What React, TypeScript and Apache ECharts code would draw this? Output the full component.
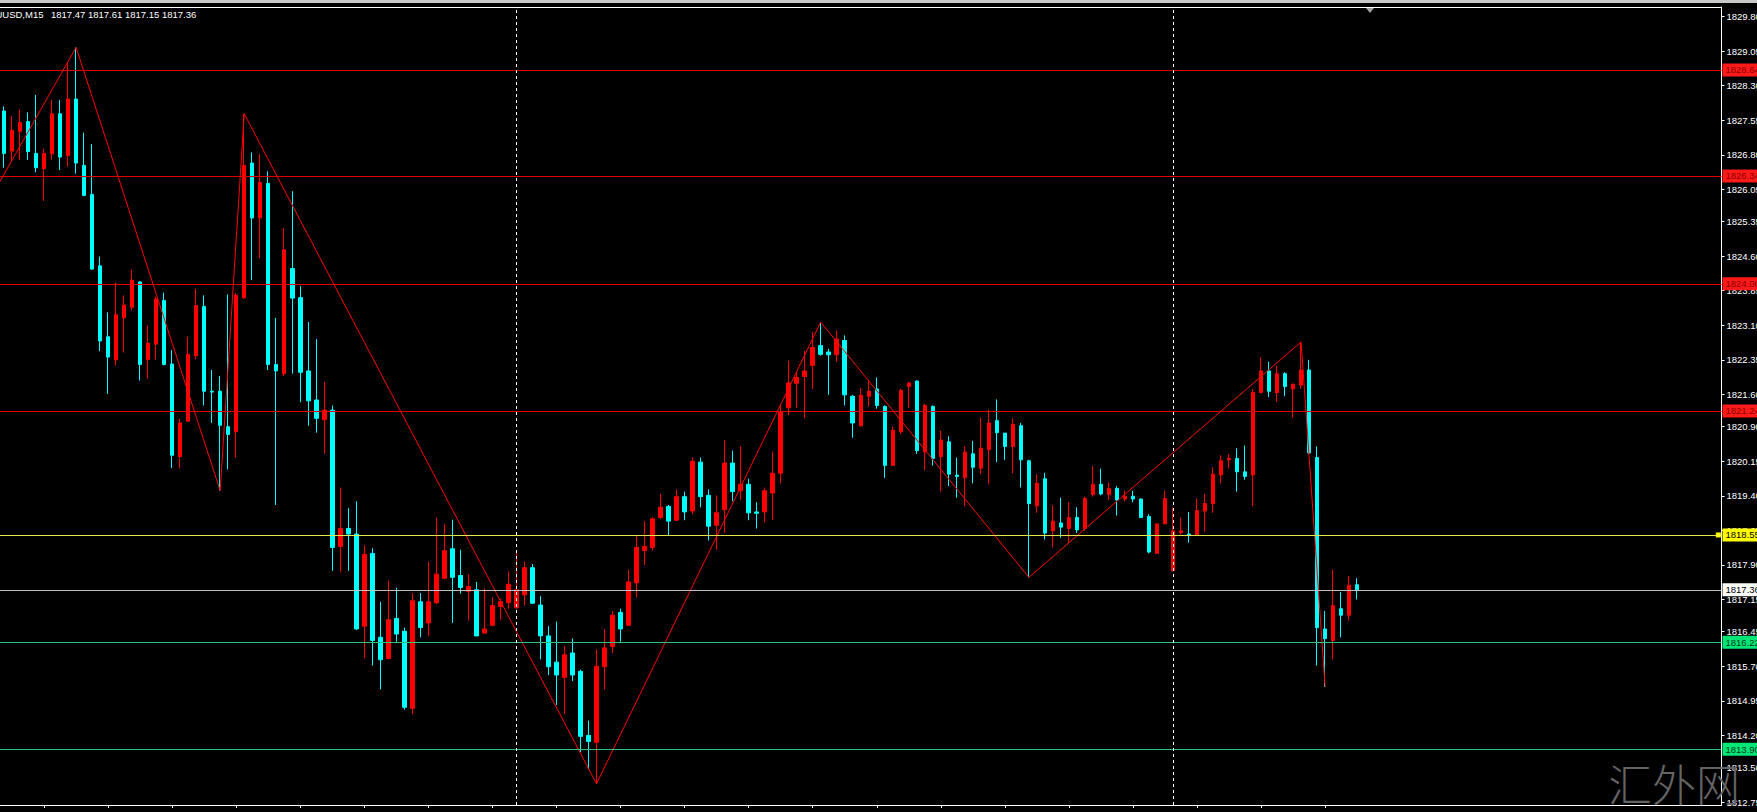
import React, { useEffect, useRef } from "react";
import * as echarts from "echarts";

const symbolName = "XAUUSD,M15";
const lastBarText = "1817.47 1817.61 1817.15 1817.36";

const opens = [
  1827.75, 1826.88, 1827.31, 1827.52, 1826.83, 1826.50, 1826.82, 1827.69, 1826.78, 1828.01,
  1826.57, 1825.94, 1824.39, 1822.85, 1822.35, 1823.26, 1823.49, 1824.04, 1822.36, 1822.69,
  1823.64, 1822.26, 1820.25, 1821.02, 1822.44, 1823.51, 1821.67, 1821.67, 1820.90, 1820.79,
  1823.70, 1826.62, 1825.43, 1826.18, 1822.25, 1822.05, 1824.33, 1823.70, 1822.11, 1821.48,
  1821.05, 1821.26, 1818.30, 1818.69, 1818.57, 1816.57, 1818.15, 1816.33, 1815.87, 1816.74,
  1816.46, 1814.79, 1817.10, 1816.64, 1817.08, 1817.61, 1818.25, 1817.67, 1817.33, 1817.36,
  1816.42, 1816.59, 1817.00, 1817.08, 1816.97, 1817.25, 1817.84, 1817.03, 1816.36, 1815.79,
  1815.46, 1815.99, 1815.59, 1814.20, 1814.05, 1815.69, 1816.13, 1816.87, 1816.59, 1817.51,
  1818.21, 1818.28, 1818.93, 1819.17, 1818.87, 1819.38, 1819.07, 1820.13, 1819.41, 1818.76,
  1819.10, 1820.11, 1819.51, 1819.65, 1819.05, 1819.05, 1819.46, 1819.89, 1821.31, 1821.84,
  1821.99, 1822.23, 1822.66, 1822.52, 1822.46, 1822.77, 1821.56, 1820.92, 1821.56, 1821.72,
  1821.34, 1820.06, 1820.79, 1821.77, 1821.89, 1820.35, 1821.34, 1820.25, 1820.57, 1819.85,
  1819.79, 1820.31, 1820.00, 1820.40, 1821.03, 1820.76, 1820.47, 1820.92, 1820.16, 1819.18,
  1819.77, 1818.64, 1818.81, 1818.69, 1818.93, 1818.69, 1819.43, 1819.65, 1819.43, 1819.56,
  1819.33, 1819.39, 1819.33, 1818.95, 1818.15, 1818.79, 1817.77, 1818.60, 1818.57, 1818.54,
  1819.07, 1819.23, 1819.85, 1820.18, 1820.21, 1819.92, 1819.85, 1821.64, 1822.11, 1821.64,
  1822.05, 1821.72, 1821.80, 1822.13, 1820.23, 1816.51, 1816.26, 1816.95, 1816.81, 1817.47,
];
const highs = [
  1827.85, 1827.64, 1827.79, 1827.72, 1828.10, 1826.93, 1827.99, 1827.99, 1828.80, 1829.13,
  1827.28, 1827.03, 1824.59, 1823.38, 1824.03, 1823.75, 1824.31, 1824.06, 1823.10, 1823.72,
  1823.81, 1822.56, 1821.07, 1822.85, 1823.89, 1823.75, 1822.13, 1822.00, 1823.77, 1823.80,
  1827.69, 1826.85, 1826.82, 1826.44, 1823.26, 1825.21, 1826.01, 1823.95, 1823.17, 1822.80,
  1821.87, 1821.36, 1819.58, 1819.13, 1819.28, 1818.33, 1818.26, 1817.10, 1817.56, 1817.41,
  1816.54, 1817.29, 1817.29, 1817.97, 1818.93, 1818.79, 1818.88, 1818.23, 1817.69, 1817.53,
  1817.39, 1817.20, 1817.17, 1817.76, 1818.18, 1817.97, 1817.92, 1817.22, 1816.57, 1816.67,
  1816.13, 1816.30, 1815.63, 1814.52, 1816.07, 1816.51, 1816.90, 1816.95, 1817.80, 1818.52,
  1818.85, 1818.93, 1819.44, 1819.20, 1819.54, 1819.49, 1820.23, 1820.23, 1819.54, 1819.41,
  1820.61, 1820.38, 1820.47, 1819.77, 1819.26, 1819.58, 1820.36, 1821.36, 1822.33, 1822.08,
  1822.54, 1822.95, 1823.17, 1822.59, 1822.98, 1822.88, 1821.59, 1821.74, 1821.92, 1821.97,
  1821.36, 1820.90, 1821.72, 1821.87, 1821.90, 1821.39, 1821.36, 1820.81, 1820.69, 1820.23,
  1820.47, 1820.59, 1821.10, 1821.26, 1821.49, 1820.76, 1821.08, 1820.98, 1820.18, 1819.87,
  1819.90, 1819.20, 1819.36, 1819.26, 1819.15, 1819.38, 1820.05, 1819.99, 1819.69, 1819.61,
  1819.51, 1819.51, 1819.34, 1819.00, 1818.79, 1819.51, 1819.15, 1818.93, 1819.05, 1819.34,
  1819.44, 1820.02, 1820.28, 1820.30, 1820.43, 1820.49, 1821.72, 1822.41, 1822.31, 1822.21,
  1822.08, 1821.84, 1822.74, 1822.35, 1820.47, 1816.90, 1817.80, 1817.31, 1817.66, 1817.61,
];
const lows = [
  1826.52, 1826.66, 1826.69, 1826.69, 1826.42, 1825.80, 1826.69, 1826.47, 1826.54, 1826.39,
  1825.90, 1824.30, 1822.54, 1821.61, 1822.23, 1822.51, 1823.43, 1821.90, 1821.94, 1822.36,
  1822.23, 1820.00, 1819.99, 1821.00, 1822.36, 1821.36, 1820.98, 1819.51, 1819.97, 1820.23,
  1823.67, 1824.08, 1824.56, 1822.13, 1819.20, 1822.00, 1822.05, 1821.43, 1820.92, 1820.77,
  1820.31, 1817.77, 1817.74, 1817.77, 1816.49, 1815.87, 1815.72, 1815.20, 1815.85, 1816.23,
  1814.76, 1814.66, 1816.33, 1816.36, 1817.05, 1817.59, 1816.64, 1817.28, 1816.69, 1816.35,
  1816.41, 1816.57, 1816.71, 1816.95, 1816.95, 1817.02, 1817.05, 1815.85, 1815.51, 1814.86,
  1814.66, 1815.38, 1813.84, 1813.46, 1813.15, 1815.20, 1815.99, 1816.23, 1816.59, 1817.20,
  1817.90, 1818.21, 1818.90, 1818.54, 1818.87, 1818.87, 1819.00, 1819.15, 1818.43, 1818.23,
  1818.59, 1819.28, 1819.31, 1818.87, 1818.69, 1818.82, 1818.87, 1819.67, 1821.15, 1821.31,
  1821.08, 1821.72, 1822.44, 1821.59, 1822.31, 1821.36, 1820.66, 1820.90, 1821.33, 1821.29,
  1819.79, 1820.05, 1820.74, 1821.31, 1820.31, 1819.95, 1820.06, 1819.49, 1819.61, 1819.36,
  1819.17, 1819.67, 1819.87, 1819.65, 1820.13, 1820.18, 1819.89, 1819.58, 1817.63, 1819.03,
  1818.45, 1818.28, 1818.49, 1818.38, 1818.59, 1818.64, 1819.38, 1819.41, 1819.31, 1818.97,
  1819.28, 1819.26, 1818.93, 1818.15, 1818.15, 1818.79, 1817.77, 1818.56, 1818.38, 1818.54,
  1818.62, 1819.03, 1819.67, 1819.99, 1819.49, 1819.75, 1819.17, 1821.62, 1821.54, 1821.44,
  1821.56, 1821.10, 1821.72, 1820.30, 1815.72, 1815.25, 1815.85, 1816.33, 1816.69, 1817.15,
];
const closes = [
  1826.83, 1827.33, 1827.50, 1826.87, 1826.52, 1826.83, 1827.69, 1826.75, 1828.01, 1826.62,
  1825.92, 1824.32, 1822.76, 1822.41, 1823.33, 1823.54, 1824.08, 1822.25, 1822.71, 1823.67,
  1822.25, 1820.28, 1820.98, 1822.47, 1823.53, 1821.67, 1821.65, 1820.93, 1820.73, 1823.75,
  1826.57, 1825.43, 1826.20, 1822.25, 1822.11, 1824.74, 1823.69, 1822.08, 1821.46, 1821.08,
  1821.26, 1818.28, 1818.69, 1818.57, 1816.51, 1818.13, 1816.26, 1815.84, 1816.71, 1816.40,
  1814.81, 1817.12, 1816.54, 1817.10, 1817.70, 1818.21, 1817.63, 1817.41, 1817.43, 1816.36,
  1816.51, 1817.02, 1817.10, 1817.48, 1817.36, 1817.84, 1817.07, 1816.36, 1815.69, 1815.51,
  1815.95, 1815.51, 1814.18, 1814.07, 1815.70, 1816.10, 1816.81, 1816.51, 1817.53, 1818.28,
  1818.30, 1818.90, 1819.15, 1818.85, 1819.38, 1819.05, 1820.15, 1819.38, 1818.74, 1819.03,
  1820.11, 1819.49, 1819.65, 1819.03, 1819.02, 1819.51, 1819.89, 1821.23, 1821.85, 1821.97,
  1822.11, 1822.62, 1822.47, 1822.46, 1822.80, 1821.59, 1820.98, 1821.58, 1821.67, 1821.36,
  1820.06, 1820.82, 1821.69, 1821.85, 1820.38, 1821.36, 1820.21, 1820.61, 1819.87, 1819.82,
  1820.35, 1820.02, 1820.43, 1820.98, 1820.77, 1820.47, 1820.95, 1820.18, 1819.23, 1819.67,
  1818.59, 1818.85, 1818.72, 1818.93, 1818.66, 1819.34, 1819.65, 1819.44, 1819.56, 1819.31,
  1819.39, 1819.33, 1818.93, 1818.18, 1818.79, 1819.34, 1818.64, 1818.64, 1818.54, 1819.08,
  1819.23, 1819.87, 1820.16, 1820.21, 1819.92, 1819.82, 1821.64, 1822.11, 1821.67, 1822.05,
  1821.77, 1821.82, 1822.13, 1820.33, 1816.54, 1816.30, 1817.02, 1816.81, 1817.46, 1817.36,
];

const slotCount = 215;

const zigzagBars = [-3, 9, 27, 30, 74, 102, 128, 162, 165];
const zigzagPrices = [1825.46, 1829.13, 1819.51, 1827.69, 1813.15, 1823.17, 1817.63, 1822.74, 1815.25];

const levelValues = [1828.64, 1826.34, 1824.0, 1821.24, 1818.55, 1817.36, 1816.22, 1813.9];
const levelLineColors = ["#e00000", "#e00000", "#e00000", "#e00000", "#e6e64c", "#c0c0c0", "#2ec27e", "#2ec27e"];
const levelTagColors = ["#ff1a1a", "#ff1a1a", "#ff1a1a", "#ff1a1a", "#ffff00", "#ffffff", "#00e676", "#00e676"];
const levelTextColors = ["#8a0000", "#8a0000", "#8a0000", "#8a0000", "#000000", "#000000", "#003a1a", "#003a1a"];

const priceTicks = [
  1829.8, 1829.05, 1828.3, 1827.55, 1826.8, 1826.05, 1825.35, 1824.6, 1823.85, 1823.1, 1822.35, 1821.6,
  1820.9, 1820.15, 1819.4, 1818.65, 1817.9, 1817.15, 1816.45, 1815.7, 1814.95, 1814.2, 1813.5, 1812.75,
];

const daySeparatorBars = [64, 146];
const alertMarkerPrice = 1818.55;

const timeTickFirstBar = 5;
const timeTickEvery = 8;
const timeLabels = [
  "13 Jan 12:15", "13 Jan 14:15", "13 Jan 16:15", "13 Jan 18:15", "13 Jan 20:15", "13 Jan 22:15",
  "14 Jan 00:15", "14 Jan 02:15", "14 Jan 04:15", "14 Jan 06:15", "14 Jan 08:15", "14 Jan 10:15",
  "14 Jan 12:15", "14 Jan 14:15", "14 Jan 16:15", "14 Jan 18:15", "14 Jan 20:15", "14 Jan 22:15",
  "17 Jan 00:45", "17 Jan 02:45", "17 Jan 04:45",
];

const FONT = "'Liberation Sans', Arial, sans-serif";

export default function App() {
  const ref = useRef<HTMLDivElement>(null);

  useEffect(() => {
    if (!ref.current) return;
    const chart = echarts.init(ref.current, undefined, { renderer: "svg" });

    const categories = Array.from({ length: slotCount }, (_, i) => String(i));
    const candleData = opens.map((o, i) => [o, closes[i], lows[i], highs[i]]);
    const lastTickBar = timeTickFirstBar + timeTickEvery * (timeLabels.length - 1);
    const isTick = (index: number) =>
      index >= timeTickFirstBar && index <= lastTickBar && (index - timeTickFirstBar) % timeTickEvery === 0;

    const levelMarks = levelValues.map((v, i) => ({
      yAxis: v,
      lineStyle: { color: levelLineColors[i], width: 1, type: "solid" },
      label: {
        show: true,
        position: "end",
        distance: 1,
        formatter: v.toFixed(2),
        color: levelTextColors[i],
        backgroundColor: levelTagColors[i],
        padding: [2, 3, 1, 3],
        fontSize: 9.5,
        fontFamily: FONT,
      },
    }));
    const sepMarks = daySeparatorBars.map((b) => ({
      xAxis: b,
      lineStyle: { color: "#ffffff", width: 1, type: [3, 3] },
      label: { show: false },
    }));

    const option: any = {
      animation: false,
      backgroundColor: "#000000",
      grid: { left: 0, right: 35.5, top: 7, bottom: 7, containLabel: false, outerBoundsMode: "none" },
      xAxis: [
        {
          type: "category",
          data: categories,
          boundaryGap: true,
          axisLine: { show: true, lineStyle: { color: "#ffffff", width: 1 } },
          axisTick: {
            show: true,
            alignWithLabel: true,
            interval: (i: number) => isTick(i),
            length: 3,
            lineStyle: { color: "#ffffff" },
          },
          axisLabel: {
            show: true,
            interval: (i: number) => isTick(i),
            formatter: (_v: string, i: number) =>
              isTick(i) ? timeLabels[(i - timeTickFirstBar) / timeTickEvery] : "",
            color: "#ffffff",
            fontSize: 9.5,
            fontFamily: FONT,
            margin: 4,
            align: "left",
            padding: [0, 0, 0, 2],
          },
          splitLine: { show: false },
        },
        {
          type: "value",
          min: -0.5,
          max: slotCount - 0.5,
          position: "top",
          axisLine: { show: true, onZero: false, lineStyle: { color: "#ffffff", width: 1 } },
          axisTick: { show: false },
          axisLabel: { show: false },
          splitLine: { show: false },
        },
      ],
      yAxis: {
        type: "value",
        position: "right",
        min: 1812.69,
        max: 1830.007,
        axisLine: { show: true, onZero: false, lineStyle: { color: "#ffffff", width: 1 } },
        axisTick: { show: true, length: 3, customValues: priceTicks, lineStyle: { color: "#ffffff" } },
        axisLabel: {
          show: true,
          customValues: priceTicks,
          formatter: (v: number) => v.toFixed(2),
          color: "#ffffff",
          fontSize: 9.5,
          fontFamily: FONT,
          margin: 5,
        },
        splitLine: { show: false },
      },
      series: [
        {
          type: "candlestick",
          xAxisIndex: 0,
          yAxisIndex: 0,
          data: candleData,
          barWidth: 4,
          z: 2,
          itemStyle: {
            color: "#ff0000",
            color0: "#00ffff",
            borderColor: "#ff0000",
            borderColor0: "#00ffff",
            borderWidth: 1,
          },
        },
        {
          type: "line",
          xAxisIndex: 1,
          yAxisIndex: 0,
          data: zigzagBars.map((b, i) => [b, zigzagPrices[i]]),
          symbol: "none",
          clip: true,
          z: 4,
          lineStyle: { color: "#ff0000", width: 1 },
          markLine: {
            silent: true,
            symbol: ["none", "none"],
            data: [...levelMarks, ...sepMarks],
          },
          markPoint: {
            silent: true,
            symbol: "rect",
            symbolSize: 5,
            itemStyle: { color: "#ffff00" },
            label: { show: false },
            data: [{ coord: [slotCount - 0.9, alertMarkerPrice] }],
          },
        },
      ],
      graphic: [
        { type: "rect", shape: { x: 0, y: 0, width: 1757, height: 3 }, style: { fill: "#c8c8c8" }, z: 10 },
        {
          type: "text",
          x: 43.5,
          y: 14.5,
          style: { text: symbolName, fill: "#ffffff", fontSize: 9.5, fontFamily: FONT, textAlign: "right", textVerticalAlign: "middle" },
          z: 10,
        },
        {
          type: "text",
          x: 51,
          y: 14.5,
          style: { text: lastBarText, fill: "#ffffff", fontSize: 9.5, fontFamily: FONT, textAlign: "left", textVerticalAlign: "middle" },
          z: 10,
        },
        {
          type: "polygon",
          shape: { points: [[1366, 8], [1374, 8], [1370, 13]] },
          style: { fill: "#a0a0a0" },
          z: 10,
        },
        {
          type: "text",
          x: 1674,
          y: 783,
          style: {
            text: "汇外网",
            fill: "#646464",
            fontSize: 44,
            fontWeight: 300,
            fontFamily: "'Noto Sans CJK SC', 'Noto Sans CJK JP', sans-serif",
            textAlign: "center",
            textVerticalAlign: "middle",
          },
          z: 10,
        },
      ],
    };

    chart.setOption(option);
    return () => chart.dispose();
  }, []);

  return (
    <div
      ref={ref}
      style={{ position: "fixed", left: 0, top: 0, width: 1757, height: 812, background: "#000000" }}
    />
  );
}
